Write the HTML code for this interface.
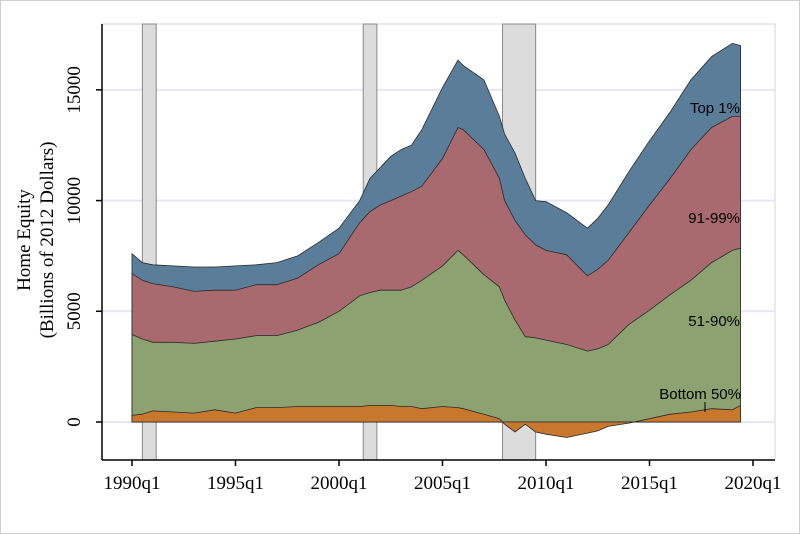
<!DOCTYPE html>
<html><head><meta charset="utf-8"><style>
html,body{margin:0;padding:0;background:#fff}
svg{display:block}
.ax{font-family:"Liberation Serif",serif;font-size:19px;fill:#000}
.an{font-family:"Liberation Sans",sans-serif;font-size:15px;fill:#000}
</style></head><body>
<svg id="chart" width="800" height="534" viewBox="0 0 800 534">
<rect x="0.5" y="0.5" width="799" height="533" fill="#fff" stroke="#cfcfcf"/>
<g id="grid"></g>
<g id="rec"></g>
<g id="areas"></g>
<g id="axes"></g>
</svg>
<script>
const years=[1990,1990.5,1991,1992,1993,1994,1995,1996,1997,1998,1999,2000,2001,2001.5,2002,2002.5,2003,2003.5,2004,2005,2005.75,2006,2007,2007.75,2008,2008.5,2009,2009.5,2010,2011,2012,2012.5,2013,2014,2015,2016,2017,2018,2019,2019.4];
const bottom50=[0.3,0.35,0.5,0.45,0.4,0.55,0.4,0.65,0.65,0.7,0.7,0.7,0.7,0.75,0.75,0.75,0.7,0.7,0.6,0.7,0.65,0.6,0.35,0.15,-0.1,-0.45,-0.1,-0.45,-0.55,-0.7,-0.5,-0.4,-0.2,-0.05,0.15,0.35,0.45,0.6,0.55,0.75];
const upTo90=[3.95,3.75,3.6,3.6,3.55,3.65,3.75,3.9,3.9,4.15,4.5,5.0,5.7,5.85,5.95,5.95,5.95,6.1,6.4,7.05,7.75,7.55,6.65,6.1,5.5,4.6,3.85,3.8,3.7,3.5,3.2,3.3,3.5,4.4,5.05,5.75,6.4,7.2,7.75,7.85];
const upTo99=[6.7,6.4,6.25,6.1,5.9,5.95,5.95,6.2,6.2,6.5,7.1,7.6,9.0,9.5,9.8,10.0,10.2,10.4,10.65,11.9,13.3,13.2,12.3,11.0,10.0,9.1,8.45,8.0,7.75,7.55,6.6,6.9,7.3,8.55,9.8,11.0,12.3,13.3,13.8,13.8];
const total=[7.6,7.2,7.1,7.05,7.0,7.0,7.05,7.1,7.2,7.5,8.1,8.75,10.0,11.0,11.5,12.0,12.3,12.5,13.2,15.1,16.35,16.1,15.45,13.8,13.0,12.15,11.0,10.0,9.95,9.45,8.75,9.2,9.8,11.3,12.7,14.0,15.45,16.5,17.1,17.0];
const yTicks=[0,5000,10000,15000];
const xTicks=[1990,1995,2000,2005,2010,2015,2020];
const recessions=[[1990.5,1991.17],[2001.17,2001.83],[2007.9,2009.5]];
const NS="http://www.w3.org/2000/svg";
const X0=102,X1=775,Y0=24,Y1=460;
const xs=t=>132+(t-1990)*20.7;
const ys=v=>422-v*0.022143;
function mk(tag,attrs,parent){const e=document.createElementNS(NS,tag);for(const k in attrs)e.setAttribute(k,attrs[k]);document.getElementById(parent).appendChild(e);return e;}
mk('rect',{x:X0,y:Y0,width:X1-X0,height:Y1-Y0,fill:'none',stroke:'#d4d4d4'},'grid');
yTicks.forEach(v=>{const l=mk('line',{x1:X0,x2:X1,y1:ys(v),y2:ys(v),stroke:'#e6e6f7','stroke-width':2},'grid');

});
recessions.forEach(r=>{const e=mk('rect',{x:xs(r[0]),y:Y0,width:xs(r[1])-xs(r[0]),height:Y1-Y0,fill:'#dcdcdc',stroke:'#888','stroke-width':1},'rec');

});
function area(vals,fill,name){let d='M'+xs(years[0])+','+ys(0);vals.forEach((v,i)=>{d+='L'+xs(years[i]).toFixed(1)+','+ys(v*1000).toFixed(1);});d+='L'+xs(years[years.length-1])+','+ys(0)+'Z';
const p=mk('path',{d:d,fill:fill,stroke:'#2a2a2a','stroke-width':0.8},'areas');

}
area(total,'#5a7e99','area-top-1');
area(upTo99,'#a86a6e','area-91-99');
area(upTo90,'#8ca371','area-51-90');
area(bottom50,'#c8782c','area-bottom-50');
mk('line',{x1:X0,x2:X0,y1:Y0,y2:Y1,stroke:'#000','stroke-width':1.5},'axes');
mk('line',{x1:X0,x2:X1,y1:Y1,y2:Y1,stroke:'#000','stroke-width':1.5},'axes');
yTicks.forEach(v=>{mk('line',{x1:X0-6,x2:X0,y1:ys(v),y2:ys(v),stroke:'#000','stroke-width':1.5},'axes');
const t=mk('text',{class:'ax',x:80,y:ys(v),'text-anchor':'middle',transform:'rotate(-90 80 '+ys(v)+')'},'axes');t.textContent=v;

});
xTicks.forEach(v=>{mk('line',{x1:xs(v),x2:xs(v),y1:Y1,y2:Y1+6,stroke:'#000','stroke-width':1.5},'axes');
const t=mk('text',{class:'ax',x:xs(v),y:489,'text-anchor':'middle'},'axes');t.textContent=v+'q1';

});
</script>
<div style="position:absolute;left:0;top:0;width:800px;height:534px;pointer-events:none">
<svg width="800" height="534" style="position:absolute;left:0;top:0">
<g>
<text class="ax" x="0" y="0" text-anchor="middle" transform="translate(30,240) rotate(-90)">Home Equity</text>
<text class="ax" x="0" y="0" text-anchor="middle" transform="translate(53,240) rotate(-90)">(Billions of 2012 Dollars)</text>
</g>
<text class="an" x="740" y="113" text-anchor="end">Top 1%</text>
<text class="an" x="740" y="223" text-anchor="end">91-99%</text>
<text class="an" x="740" y="326" text-anchor="end">51-90%</text>
<text class="an" x="741" y="399" text-anchor="end">Bottom 50%</text>
<line x1="705" y1="402" x2="705" y2="412" stroke="#000"/>
</svg></div>
</body></html>
